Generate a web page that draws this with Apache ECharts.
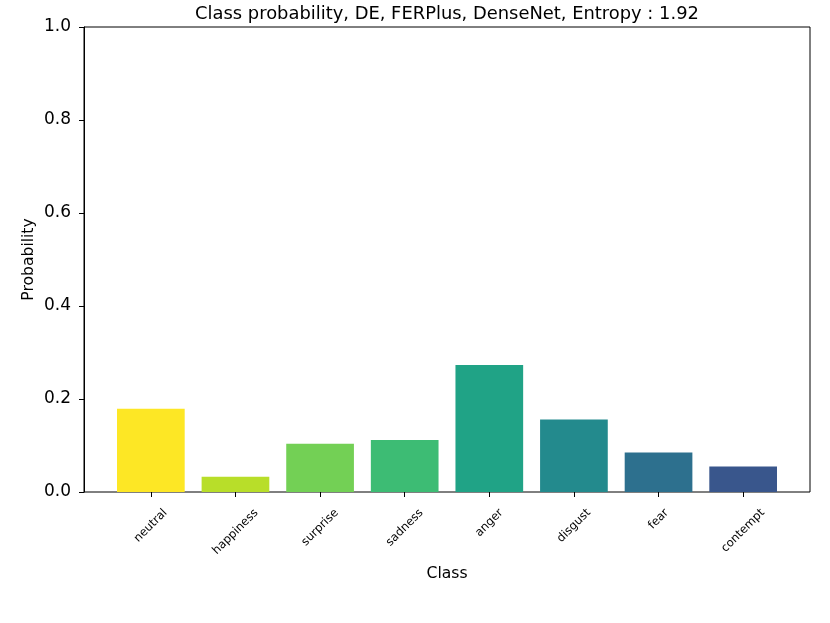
<!DOCTYPE html>
<html>
<head>
<meta charset="utf-8">
<script src="https://cdn.jsdelivr.net/npm/echarts@6/dist/echarts.min.js"></script>
<style>
html,body{margin:0;padding:0;background:#fff;}
#main{width:830px;height:623px;}
</style>
</head>
<body>
<div id="main"></div>
<script>
const categories = ['neutral','happiness','surprise','sadness','anger','disgust','fear','contempt'];
const probabilities = [0.179, 0.033, 0.104, 0.112, 0.273, 0.156, 0.085, 0.055];
const barColors = ['#fde725','#b8de29','#73d055','#3dbc74','#20a386','#238a8d','#2d708e','#39568c'];
const yTicks = [0.0, 0.2, 0.4, 0.6, 0.8, 1.0];
const titleText = 'Class probability, DE, FERPlus, DenseNet, Entropy : 1.92';

const FONT = 'DejaVu Sans';
const LABEL_SIZE = 11.6;

// measure label widths so rotated labels are centred under ticks (matplotlib style)
const cv = document.createElement('canvas').getContext('2d');
cv.font = LABEL_SIZE + 'px "' + FONT + '"';
const rich = {};
categories.forEach((c, i) => {
  const w = cv.measureText(c).width;
  rich['l' + i] = {
    fontFamily: FONT, fontSize: LABEL_SIZE, color: '#000',
    padding: [0.5 * w, 0.5 * w, 0, 0]
  };
});

const chart = echarts.init(document.getElementById('main'), null, {renderer: 'canvas'});
const option = {
  animation: false,
  backgroundColor: '#fff',
  textStyle: {fontFamily: FONT},
  title: {
    text: titleText,
    left: 442, top: 0, textAlign: 'center',
    textStyle: {fontFamily: FONT, fontSize: 17.9, fontWeight: 'normal', color: '#000'}
  },
  grid: [
    {left: 84, right: 20, top: 27, bottom: 131, show: true, borderColor: '#000', borderWidth: 1, backgroundColor: 'transparent'},
    {left: 108.54, right: 44.54, top: 27, bottom: 131}
  ],
  xAxis: [
    {type: 'value', gridIndex: 0, show: false, min: 0, max: 1},
    {
      type: 'category', gridIndex: 1, data: categories,
      axisLine: {show: false},
      axisTick: {show: true, alignWithLabel: true, length: 5, lineStyle: {color: '#000', width: 1}},
      axisLabel: {
        interval: 0, rotate: 45, align: 'center', verticalAlign: 'middle', margin: 19,
        fontFamily: FONT, fontSize: LABEL_SIZE, color: '#000',
        formatter: (v, i) => '{l' + i + '|' + v + '}',
        rich: rich
      },
      name: 'Class', nameLocation: 'middle', nameGap: 74, nameMoveOverlap: false,
      nameTextStyle: {fontFamily: FONT, fontSize: 15.6, color: '#000'}
    }
  ],
  yAxis: [
    {
      type: 'value', gridIndex: 0, min: yTicks[0], max: yTicks[yTicks.length - 1], interval: 0.2,
      axisLine: {show: true, lineStyle: {color: '#000', width: 1}},
      axisTick: {show: true, length: 5, lineStyle: {color: '#000', width: 1}},
      splitLine: {show: false},
      axisLabel: {fontFamily: FONT, fontSize: 17, color: '#000', margin: 13, formatter: v => v.toFixed(1)},
      name: 'Probability', nameLocation: 'middle', nameGap: 47, nameRotate: 90, nameMoveOverlap: false,
      nameTextStyle: {fontFamily: FONT, fontSize: 15.6, color: '#000'}
    },
    {type: 'value', gridIndex: 1, show: false, min: 0, max: 1}
  ],
  series: [{
    type: 'bar', xAxisIndex: 1, yAxisIndex: 1,
    barWidth: '80%',
    data: probabilities.map((v, i) => ({value: v, itemStyle: {color: barColors[i]}}))
  }]
};
chart.setOption(option);
</script>
</body>
</html>
